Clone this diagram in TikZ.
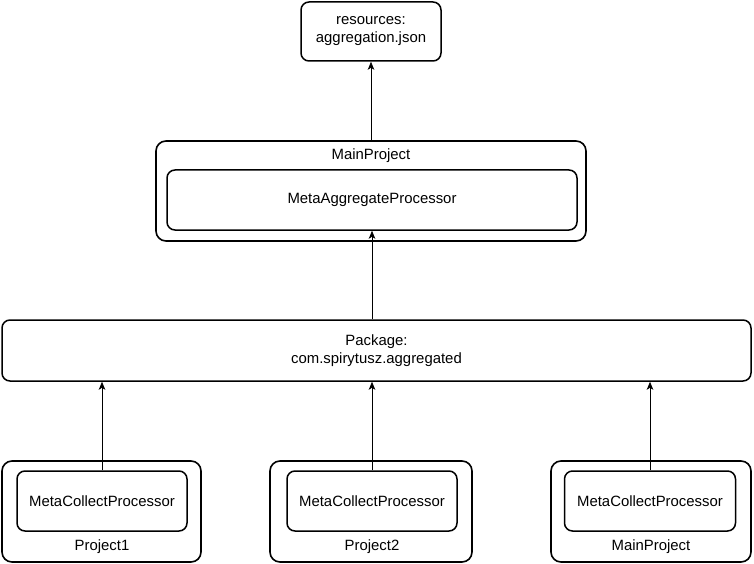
\documentclass[tikz,border=0pt]{standalone}
\usepackage{fontspec}
\setmainfont{Liberation Sans}
\usepackage{tikz}
\usetikzlibrary{positioning, arrows.meta}

\begin{document}
\begin{tikzpicture}[x=1pt, y=-1pt,
        every node/.style={font=\fontsize{14.9}{18}\selectfont},
        outerbox/.style={draw, line width=1.6pt, rounded corners=10pt, inner sep=0pt},
        innerbox/.style={draw, line width=1.5pt, rounded corners=8pt, inner sep=0pt, align=center},
        flow/.style={-{Stealth[length=8pt, width=6.5pt, inset=2pt]}, line width=0.8pt}]
                \useasboundingbox (0, 0) rectangle (754, 564);

                \node[innerbox, minimum width=140pt, minimum height=59pt] (res) at (371, 31.5) {resources:\\aggregation.json};

                \node[outerbox, minimum width=430pt, minimum height=100pt] (main) at (371, 191) {};
                \node (mainlbl) at (371, 156) {MainProject};
                \node[innerbox, minimum width=410pt, minimum height=60pt] (agg) at (372, 200) {MetaAggregateProcessor};

                \node[innerbox, minimum width=749pt, minimum height=61pt] (pkg) at (376.5, 350.5) {Package:\\com.spirytusz.aggregated};

                \node[outerbox, minimum width=199pt, minimum height=101pt] (proj1) at (101.5, 511.5) {};
                \node[innerbox, minimum width=170pt, minimum height=60pt] (coll1) at (102, 501) {MetaCollectProcessor};
                \node (proj1lbl) at (102, 547) {Project1};

                \node[outerbox, minimum width=202pt, minimum height=101pt] (proj2) at (371, 511.5) {};
                \node[innerbox, minimum width=170pt, minimum height=60pt] (coll2) at (372, 501) {MetaCollectProcessor};
                \node (proj2lbl) at (372, 547) {Project2};

                \node[outerbox, minimum width=200pt, minimum height=101pt] (proj3) at (651, 511.5) {};
                \node[innerbox, minimum width=171pt, minimum height=60pt] (coll3) at (650, 501) {MetaCollectProcessor};
                \node (proj3lbl) at (651, 547) {MainProject};

                \draw[flow] (coll1.north) -- (coll1.north |- pkg.south);
                \draw[flow] (coll2.north) -- (coll2.north |- pkg.south);
                \draw[flow] (coll3.north) -- (coll3.north |- pkg.south);
                \draw[flow] (agg.south |- pkg.north) -- (agg.south);
                \draw[flow] (main.north) -- (res.south);
\end{tikzpicture}
\end{document}
